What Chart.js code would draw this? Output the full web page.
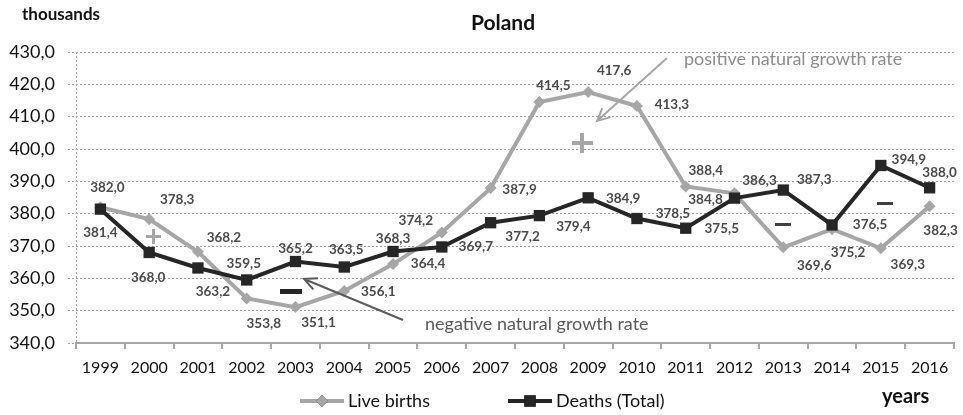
<!DOCTYPE html>
<html>
<head>
<meta charset="utf-8">
<script src="https://cdn.jsdelivr.net/npm/chart.js@4.4.1/dist/chart.umd.min.js"></script>
<style>
  html, body { margin: 0; padding: 0; background: #ffffff; }
  #wrap { width: 963px; height: 415px; position: relative; }
</style>
</head>
<body>
<div id="wrap"><canvas id="c"></canvas></div>
<script>
// Live births and deaths in Poland, thousands
const years = ['1999','2000','2001','2002','2003','2004','2005','2006','2007','2008','2009','2010','2011','2012','2013','2014','2015','2016'];
const liveBirths = [382.0, 378.3, 368.2, 353.8, 351.1, 356.1, 364.4, 374.2, 387.9, 414.5, 417.6, 413.3, 388.4, 386.3, 369.6, 375.2, 369.3, 382.3];
const deaths = [381.4, 368.0, 363.2, 359.5, 365.2, 363.5, 368.3, 369.7, 377.2, 379.4, 384.9, 378.5, 375.5, 384.8, 387.3, 376.5, 394.9, 388.0];
const yTicks = { min: 340, max: 430, step: 10 };

// where each value label sits relative to its point (dx, dy in px)
const birthLabelOffsets = [[7,-20],[28,-20],[26,-14],[17,25],[23,16],[34,1],[35,0],[-26,-12],[29,2],[14,-16],[26,-21],[35,-1],[20,-16],[25,-13],[31,18],[16,23],[27,16],[11,24]];
const deathLabelOffsets = [[0,24],[-1,25],[15,24],[-3,-16],[0,-13],[2,-17],[0,-13],[34,0],[32,14],[34,11],[35,1],[36,-5],[36,0],[-29,1],[31,-10],[38,0],[28,-6],[10,-15]];

const FONT = 'Lato, "Open Sans", sans-serif';
const fmt = v => v.toFixed(1).replace('.', ',');

const valueLabels = {
  id: 'valueLabels',
  afterDatasetsDraw(chart) {
    const ctx = chart.ctx;
    ctx.save();
    ctx.font = 'bold 13.5px ' + FONT;
    ctx.fillStyle = '#4a4a4a';
    ctx.textAlign = 'center';
    ctx.textBaseline = 'middle';
    chart.data.datasets.forEach((ds, di) => {
      const meta = chart.getDatasetMeta(di);
      const offs = ds.labelOffsets;
      meta.data.forEach((pt, i) => {
        ctx.fillText(fmt(ds.data[i]), pt.x + offs[i][0], pt.y + offs[i][1]);
      });
    });
    ctx.restore();
  }
};

// dotted vertical value axis line
const dottedAxis = {
  id: 'dottedAxis',
  beforeDatasetsDraw(chart) {
    const { ctx, chartArea } = chart;
    ctx.save();
    ctx.strokeStyle = '#a0a0a0';
    ctx.lineWidth = 1;
    ctx.setLineDash([2, 2]);
    ctx.beginPath();
    ctx.moveTo(chartArea.left + 0.5, chartArea.top);
    ctx.lineTo(chartArea.left + 0.5, chartArea.bottom);
    ctx.stroke();
    ctx.restore();
  }
};

function arrow(ctx, x1, y1, x2, y2, color, w) {
  ctx.strokeStyle = color;
  ctx.lineWidth = w;
  ctx.beginPath();
  ctx.moveTo(x1, y1);
  ctx.lineTo(x2, y2);
  const a = Math.atan2(y2 - y1, x2 - x1);
  const L = 14, s = 0.45;
  ctx.moveTo(x2 - L * Math.cos(a - s), y2 - L * Math.sin(a - s));
  ctx.lineTo(x2, y2);
  ctx.lineTo(x2 - L * Math.cos(a + s), y2 - L * Math.sin(a + s));
  ctx.stroke();
}

const decorations = {
  id: 'decorations',
  afterDraw(chart) {
    const ctx = chart.ctx;
    ctx.save();
    // headings
    ctx.fillStyle = '#111';
    ctx.textBaseline = 'middle';
    ctx.textAlign = 'center';
    ctx.font = 'bold 21px ' + FONT;
    ctx.fillText('Poland', 503, 23);
    ctx.textAlign = 'left';
    ctx.font = 'bold 17px ' + FONT;
    ctx.fillText('thousands', 22, 15);
    ctx.font = 'bold 20px ' + FONT;
    ctx.fillText('years', 882, 397);

    // growth-rate annotations
    ctx.font = '18px ' + FONT;
    ctx.fillStyle = '#8c8c8c';
    ctx.fillText('positive natural growth rate', 684, 59);
    arrow(ctx, 667, 58, 597, 121, '#a6a6a6', 2);
    ctx.fillStyle = '#5a5a5a';
    ctx.fillText('negative natural growth rate', 425, 324);
    arrow(ctx, 403, 320, 304, 279, '#5a5a5a', 2);

    // plus / minus signs
    ctx.fillStyle = '#a6a6a6';
    ctx.fillRect(572, 141, 21, 4);   // big plus
    ctx.fillRect(580, 133, 4, 20);
    ctx.fillRect(146, 235, 15, 3);   // small plus
    ctx.fillRect(152, 229, 3, 15);
    ctx.fillStyle = '#262626';
    ctx.fillRect(280, 289, 22, 5);
    ctx.fillStyle = '#404040';
    ctx.fillRect(775, 223, 16, 3);
    ctx.fillRect(877, 202, 16, 3);

    // legend
    ctx.font = '18px ' + FONT;
    ctx.textBaseline = 'middle';
    const items = [
      { ds: chart.data.datasets[0], x: 300 },
      { ds: chart.data.datasets[1], x: 508 }
    ];
    const ly = 401;
    items.forEach(it => {
      ctx.strokeStyle = it.ds.borderColor;
      ctx.lineWidth = 4;
      ctx.beginPath();
      ctx.moveTo(it.x, ly);
      ctx.lineTo(it.x + 44, ly);
      ctx.stroke();
      Chart.helpers.drawPoint(ctx, {
        pointStyle: it.ds.pointStyle,
        radius: it.ds.pointRadius,
        rotation: 0,
        borderWidth: 0
      }, it.x + 22, ly);
      ctx.fillStyle = it.ds.pointBackgroundColor;
      ctx.fill();
      ctx.fillStyle = '#111';
      ctx.fillText(it.ds.label, it.x + 48, ly);
    });
    ctx.restore();
  }
};

new Chart(document.getElementById('c'), {
  type: 'line',
  data: {
    labels: years,
    datasets: [
      {
        label: 'Live births',
        data: liveBirths,
        labelOffsets: birthLabelOffsets,
        borderColor: '#a6a6a6',
        backgroundColor: '#a6a6a6',
        pointBackgroundColor: '#a6a6a6',
        pointBorderWidth: 0,
        pointStyle: 'rectRot',
        pointRadius: 6,
        borderWidth: 4,
        tension: 0,
        order: 2
      },
      {
        label: 'Deaths (Total)',
        data: deaths,
        labelOffsets: deathLabelOffsets,
        borderColor: '#262626',
        backgroundColor: '#262626',
        pointBackgroundColor: '#262626',
        pointBorderWidth: 0,
        pointStyle: 'rect',
        pointRadius: 8,
        borderWidth: 4,
        tension: 0,
        order: 1
      }
    ]
  },
  options: {
    responsive: true,
    maintainAspectRatio: false,
    animation: false,
    layout: { padding: { left: 0, right: 9, top: 52, bottom: 0 } },
    plugins: {
      legend: { display: false },
      title: { display: false },
      tooltip: { enabled: false }
    },
    scales: {
      x: {
        offset: true,
        afterFit: s => { s.height = 72; },
        grid: {
          offset: true,
          drawOnChartArea: false,
          drawTicks: true,
          tickLength: 6,
          color: '#a6a6a6',
          lineWidth: 2
        },
        border: { display: true, color: '#a6a6a6', width: 2 },
        ticks: {
          color: '#111',
          padding: 9,
          maxRotation: 0,
          autoSkip: false,
          font: { family: FONT, size: 16 }
        }
      },
      y: {
        min: yTicks.min,
        max: yTicks.max,
        afterFit: s => { s.width = 76; },
        grid: {
          color: '#a0a0a0',
          lineWidth: 1,
          tickLength: 8,
          tickBorderDash: [2, 2]
        },
        border: { display: false, dash: [2, 2] },
        ticks: {
          stepSize: yTicks.step,
          color: '#111',
          padding: 13,
          font: { family: FONT, size: 18 },
          callback: v => fmt(v)
        }
      }
    }
  },
  plugins: [dottedAxis, valueLabels, decorations]
});
</script>
</body>
</html>
